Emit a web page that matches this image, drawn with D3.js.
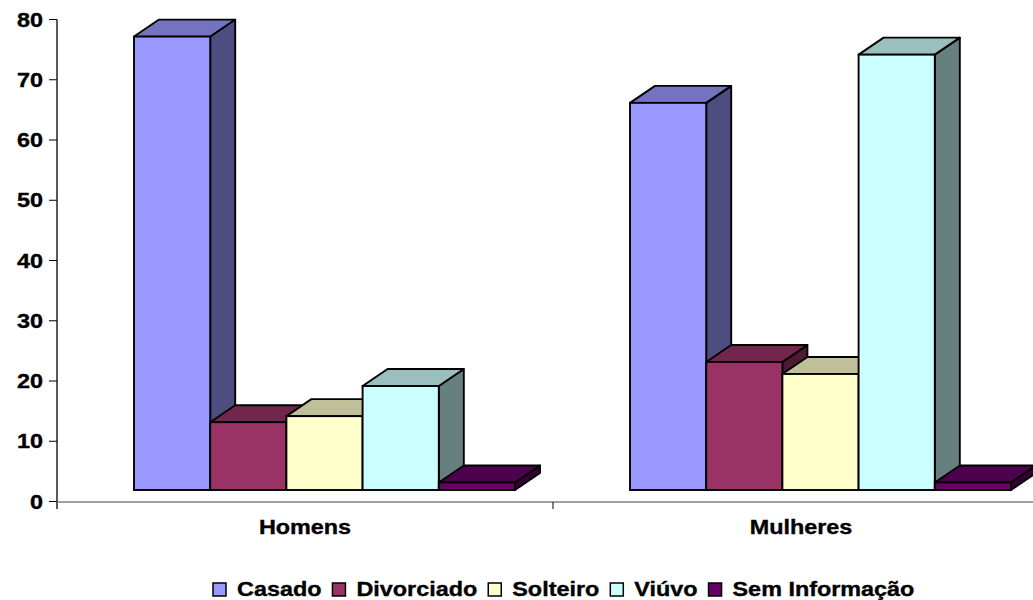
<!DOCTYPE html>
<html>
<head>
<meta charset="utf-8">
<script src="https://cdn.jsdelivr.net/npm/d3@7"></script>
<style>
  body { margin: 0; background: #fff; }
  text { font-family: "Liberation Sans", Arial, sans-serif; font-weight: bold; fill: #000; stroke: #000; stroke-width: 0.35px; }
</style>
</head>
<body>
<div id="app"></div>
<script>
// DATA
const categories = ['Homens', 'Mulheres'];
const series = ['Casado', 'Divorciado', 'Solteiro', 'Viúvo', 'Sem Informação'];
const casado = [77, 66];
const divorciado = [13, 23];
const solteiro = [14, 21];
const viuvo = [19, 74];
const semInfo = [3, 3];
const yTicks = [0, 10, 20, 30, 40, 50, 60, 70, 80];

const values = [casado, divorciado, solteiro, viuvo, semInfo];
const fronts = ['#9999ff', '#993366', '#ffffcc', '#ccffff', '#660066'];

// VARS
const width = 1033, height = 600;
const depthX = 25, depthY = 17;
const floorLift = 11.5;
const stretch = 1.2;

const svg = d3.select('#app').append('svg')
  .attr('width', width)
  .attr('height', height);

const y = d3.scaleLinear().domain([0, 80]).range([501.5, 19.5]);
const x0 = d3.scaleBand().domain(categories).range([57, 1049]);
const x1 = d3.scaleBand().domain(series).range([77, 458]);

const shade = (c, k) => {
  const rgb = d3.rgb(c);
  return d3.rgb(rgb.r * k, rgb.g * k, rgb.b * k).formatHex();
};

// axes
const yAxis = svg.append('g');
yAxis.append('line')
  .attr('x1', 57).attr('x2', 57)
  .attr('y1', y(80)).attr('y2', 509)
  .attr('stroke', '#000').attr('stroke-width', 1.3);
yAxis.selectAll('line.tick')
  .data(yTicks)
  .enter().append('line')
    .attr('class', 'tick')
    .attr('x1', 49).attr('x2', 57)
    .attr('y1', d => y(d)).attr('y2', d => y(d))
    .attr('stroke', '#000');
yAxis.selectAll('g.lbl')
  .data(yTicks)
  .enter().append('g')
    .attr('class', 'lbl')
    .attr('transform', d => `translate(43,${y(d) + 7}) scale(${stretch},1)`)
  .append('text')
    .attr('text-anchor', 'end')
    .style('font-size', '19.5px')
    .text(d => d);

const xAxis = svg.append('g');
xAxis.append('line')
  .attr('x1', 57).attr('x2', width)
  .attr('y1', 502).attr('y2', 502)
  .attr('stroke', '#808080').attr('stroke-width', 1.5);
xAxis.append('line')
  .attr('x1', 553).attr('x2', 553)
  .attr('y1', 502).attr('y2', 509)
  .attr('stroke', '#000');
xAxis.selectAll('g.cat')
  .data(categories)
  .enter().append('g')
    .attr('class', 'cat')
    .attr('transform', d => `translate(${x0(d) + x0.bandwidth() / 2},534) scale(${stretch},1)`)
  .append('text')
    .attr('text-anchor', 'middle')
    .style('font-size', '19.5px')
    .text(d => d);

// bars
const base = y(0) - floorLift;
categories.forEach((cat, ci) => {
  const g = svg.append('g');
  series.forEach((s, si) => {
    const v = values[si][ci];
    const left = x0(cat) + x1(s);
    const right = left + x1.bandwidth();
    const top = y(v) - 1;
    const col = fronts[si];
    // side
    g.append('polygon')
      .attr('points', [[right, base], [right + depthX, base - depthY], [right + depthX, top - depthY], [right, top]].join(' '))
      .attr('fill', shade(col, 0.5))
      .attr('stroke', '#000').attr('stroke-width', 1.9).attr('stroke-linejoin', 'round');
    // top
    g.append('polygon')
      .attr('points', [[left, top], [left + depthX, top - depthY], [right + depthX, top - depthY], [right, top]].join(' '))
      .attr('fill', shade(col, 0.75))
      .attr('stroke', '#000').attr('stroke-width', 1.9).attr('stroke-linejoin', 'round');
    // front
    g.append('rect')
      .attr('x', left).attr('y', top)
      .attr('width', right - left).attr('height', base - top)
      .attr('fill', col)
      .attr('stroke', '#000').attr('stroke-width', 1.9);
  });
});

// legend
const legend = svg.append('g');
let lx = 213;
series.forEach((s, si) => {
  legend.append('rect')
    .attr('x', lx).attr('y', 583)
    .attr('width', 13).attr('height', 13)
    .attr('fill', fronts[si])
    .attr('stroke', '#000').attr('stroke-width', 1.5);
  const tg = legend.append('g')
    .attr('transform', `translate(${lx + 24},596) scale(${stretch},1)`);
  const t = tg.append('text')
    .style('font-size', '19.5px')
    .text(s);
  lx += 24 + t.node().getComputedTextLength() * stretch + 11;
});
</script>
</body>
</html>
